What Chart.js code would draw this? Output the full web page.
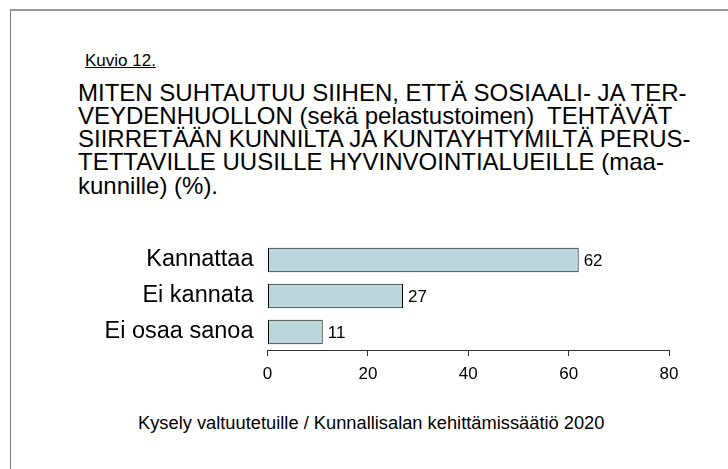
<!DOCTYPE html>
<html>
<head>
<meta charset="utf-8">
<script src="https://cdn.jsdelivr.net/npm/chart.js@4"></script>
<style>
  html, body { margin: 0; padding: 0; background: #fff; }
  body { width: 728px; height: 469px; position: relative; overflow: hidden;
         font-family: "Liberation Sans", Arial, sans-serif; color: #000; }
  .frame { position: absolute; left: 10px; top: 9px; width: 740px; height: 480px;
           border-left: 1px solid #7f7f7f; border-top: 2px solid #9a9a9a; }
  .kuvio { position: absolute; left: 85px; top: 52px; font-size: 17px; line-height: 18px;
           text-decoration: underline; white-space: nowrap; }
  .title { position: absolute; left: 78px; top: 80.5px; font-size: 24px; line-height: 23.3px;
           white-space: pre; }
  .footer { position: absolute; left: 138px; top: 414px; font-size: 18.3px; line-height: 18px;
            white-space: nowrap; }
  .chartbox { position: absolute; left: 90px; top: 230px; width: 600px; height: 160px; }
</style>
</head>
<body>
<div class="frame"></div>
<div class="kuvio">Kuvio 12.</div>
<div class="title">MITEN SUHTAUTUU SIIHEN, ETTÄ SOSIAALI- JA TER-
VEYDENHUOLLON (sekä pelastustoimen)  TEHTÄVÄT
SIIRRETÄÄN KUNNILTA JA KUNTAYHTYMILTÄ PERUS-
TETTAVILLE UUSILLE HYVINVOINTIALUEILLE (maa-
kunnille) (%).</div>
<div class="chartbox"><canvas id="chart"></canvas></div>
<div class="footer">Kysely valtuutetuille / Kunnallisalan kehittämissäätiö 2020</div>

<script>
const categories = ["Kannattaa", "Ei kannata", "Ei osaa sanoa"];
const values = [62, 27, 11];
const xTicks = [0, 20, 40, 60, 80];

// numbers at the end of each bar
const valueLabels = {
  id: "valueLabels",
  afterDatasetsDraw(chart) {
    const ctx = chart.ctx;
    const meta = chart.getDatasetMeta(0);
    ctx.save();
    ctx.font = "17px 'Liberation Sans', Arial, sans-serif";
    ctx.fillStyle = "#000";
    ctx.textAlign = "left";
    ctx.textBaseline = "middle";
    meta.data.forEach((bar, i) => {
      ctx.fillText(values[i], bar.x + 5, bar.y + 1);
    });
    ctx.restore();
  },
};

new Chart(document.getElementById("chart"), {
  type: "bar",
  data: {
    labels: categories,
    datasets: [
      {
        data: values,
        backgroundColor: "rgb(188, 215, 219)",
        borderColor: "#000",
        borderWidth: 1,
        borderSkipped: false,
        barPercentage: 0.68,
        categoryPercentage: 1,
      },
    ],
  },
  options: {
    indexAxis: "y",
    responsive: true,
    maintainAspectRatio: false,
    animation: false,
    layout: { padding: { top: 12, right: 21, bottom: 0, left: 0 } },
    plugins: {
      legend: { display: false },
      tooltip: { enabled: false },
    },
    scales: {
      x: {
        min: 0,
        max: 80,
        afterBuildTicks: (s) => { s.ticks = xTicks.map((v) => ({ value: v })); },
        afterFit: (s) => { s.height = 40; },
        grid: { drawOnChartArea: false, drawTicks: true, tickLength: 6, color: "#333" },
        border: { display: true, color: "#333" },
        ticks: {
          color: "#000",
          padding: 8,
          maxRotation: 0,
          font: { family: "'Liberation Sans', Arial, sans-serif", size: 17 },
        },
      },
      y: {
        afterFit: (s) => { s.width = 177.5; s.paddingTop = 0; s.paddingBottom = 0; },
        grid: { display: false },
        border: { display: false },
        ticks: {
          color: "#000",
          padding: 6,
          font: { family: "'Liberation Sans', Arial, sans-serif", size: 23.5 },
        },
      },
    },
  },
  plugins: [valueLabels],
});
</script>
</body>
</html>
